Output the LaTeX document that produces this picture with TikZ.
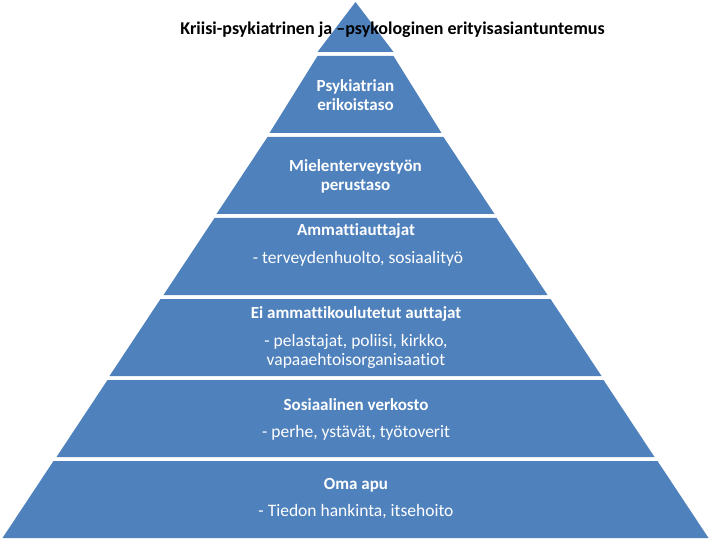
\documentclass[tikz,border=0pt]{standalone}
\usepackage{fontspec}
\setmainfont{Carlito}[Ligatures=NoCommon]
\definecolor{tierblue}{HTML}{4F81BD}
\tikzset{
  tier/.style={fill=tierblue, draw=none},
  head/.style={text=white, font=\bfseries\fontsize{17}{19}\selectfont, align=center, inner sep=0pt},
  sub/.style={text=white, font=\fontsize{17.5}{19}\selectfont, align=center, inner sep=0pt},
  titletext/.style={text=black, font=\bfseries\fontsize{18}{20}\selectfont, inner sep=0pt}
}
\newcommand{\tierband}[4]{% top y, top half, bottom y, bottom half
  \fill[tier] (355.5-#2,#1) -- (355.5+#2,#1) -- (355.5+#4,#3) -- (355.5-#4,#3) -- cycle;}
\begin{document}
\begin{tikzpicture}[x=1pt,y=-1pt]
\useasboundingbox (0,0) rectangle (720,540);
% tiers
\fill[tier] (355.5,2) -- (355.5+38,52) -- (355.5-38,52) -- cycle;
\tierband{56}{38}{133}{86}
\tierband{137}{88}{214}{139}
\tierband{218}{141}{295}{192}
\tierband{299}{195}{376}{246}
\tierband{380}{248}{457}{299}
\tierband{461}{302}{538}{353}
% texts
\node[titletext] (title) at (392.5,30) {Kriisi-psykiatrinen ja –psykologinen erityisasiantuntemus};
\node[head] (t2) at (355.5,95) {Psykiatrian\\erikoistaso};
\node[head] (t3) at (355.5,176) {Mielenterveystyön\\perustaso};
\node[head] (t4h) at (356,231) {Ammattiauttajat};
\node[sub] (t4s) at (358,259) {- terveydenhuolto, sosiaalityö};
\node[head] (t5h) at (356,314) {Ei ammattikoulutetut auttajat};
\node[sub] (t5s) at (356,351.5) {- pelastajat, poliisi, kirkko,\\vapaaehtoisorganisaatiot};
\node[head] (t6h) at (356,405) {Sosiaalinen verkosto};
\node[sub] (t6s) at (356,433) {- perhe, ystävät, työtoverit};
\node[head] (t7h) at (356,485) {Oma apu};
\node[sub] (t7s) at (356,512) {- Tiedon hankinta, itsehoito};
\end{tikzpicture}
\end{document}
